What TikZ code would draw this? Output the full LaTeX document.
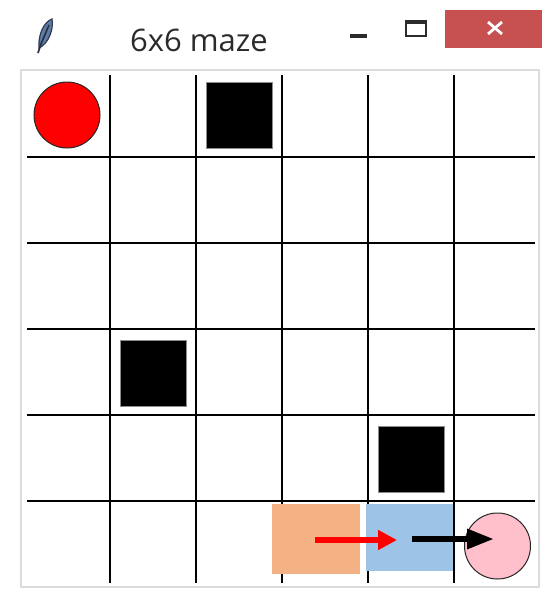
\documentclass[tikz,border=0pt]{standalone}
\usepackage{fontspec}
\setmainfont{Open Sans}
\usepackage{xcolor}
\usetikzlibrary{arrows.meta,positioning}
\definecolor{AgentRed}{HTML}{FF0000}
\definecolor{PrevCell}{HTML}{F4B183}
\definecolor{CurCell}{HTML}{9DC3E6}
\definecolor{GoalPink}{HTML}{FFC0CB}
\definecolor{CloseRed}{HTML}{C75050}
\definecolor{FrameGray}{HTML}{DCDCDC}
\definecolor{TitleGray}{HTML}{2B2B2B}
\definecolor{FeatherBlue}{HTML}{5F7BA6}

\begin{document}
\begin{tikzpicture}[x=1pt, y=-1pt,
  gridline/.style={line width=2.2pt},
  wall/.style={fill=black, draw=black!45, line width=0.6pt, minimum size=66pt, inner sep=0pt},
  disc/.style={circle, draw=black!85, line width=1pt, minimum size=66pt, inner sep=0pt},
  cellbox/.style={inner sep=0pt},
  move/.style={line width=6pt}
]
\useasboundingbox (0,0) rectangle (545,589);
\fill[white] (0,0) rectangle (545,589);

% title bar
\draw[FeatherBlue!50!black, line width=1.2pt, fill=FeatherBlue] (39,48) .. controls (38,34) and (44,22) .. (52,19) .. controls (54,30) and (48,44) .. (39,48) -- cycle;
\draw[FeatherBlue!40!black, line width=1.6pt] (38,53) -- (41,44) -- (49,25);
\node[text=TitleGray, font=\fontsize{31}{31}\selectfont] (title) at (199,40) {6x6 maze};
\draw[TitleGray, line width=3.2pt] (350,36) -- (367,36);
\draw[TitleGray, line width=1.6pt] (406,21) rectangle (426,36);
\draw[TitleGray, line width=3pt] (406,22) -- (426,22);
\fill[CloseRed] (445,10) rectangle (542,48);
\draw[white, line width=2.8pt] (488,22) -- (502,34) (488,34) -- (502,22);

% canvas
\draw[FrameGray, line width=2pt] (21,70) rectangle (539,587);
\foreach \i in {1,...,5} {
  \draw[gridline] (24+86*\i,75) -- (24+86*\i,583);
  \draw[gridline] (27,71+86*\i) -- (535,71+86*\i);
}

% walls
\node[wall] (wall1) at (239,115) {};
\node[wall] (wall2) at (153,373) {};
\node[wall] (wall3) at (411,459) {};

% agent, trail and goal
\node[disc, fill=AgentRed] (agent) at (67,115) {};
\node[cellbox, fill=PrevCell, minimum width=88pt, minimum height=70pt] (prev) at (316,539) {};
\node[cellbox, fill=CurCell, minimum width=87pt, minimum height=67pt] (cur) at (409.5,537.5) {};
\node[disc, fill=GoalPink] (goal) at (497.5,546) {};

\coordinate (redtail) at (315,540);
\coordinate (redhead) at (397,540);
\coordinate (blacktail) at (412,539);
\coordinate (blackhead) at (494,539);
\draw[move, AgentRed, -{Triangle[length=19pt, width=19pt]}] (redtail) -- (redhead);
\draw[move, -{Triangle[length=27pt, width=19pt]}] (blacktail) -- (blackhead);
\end{tikzpicture}
\end{document}
